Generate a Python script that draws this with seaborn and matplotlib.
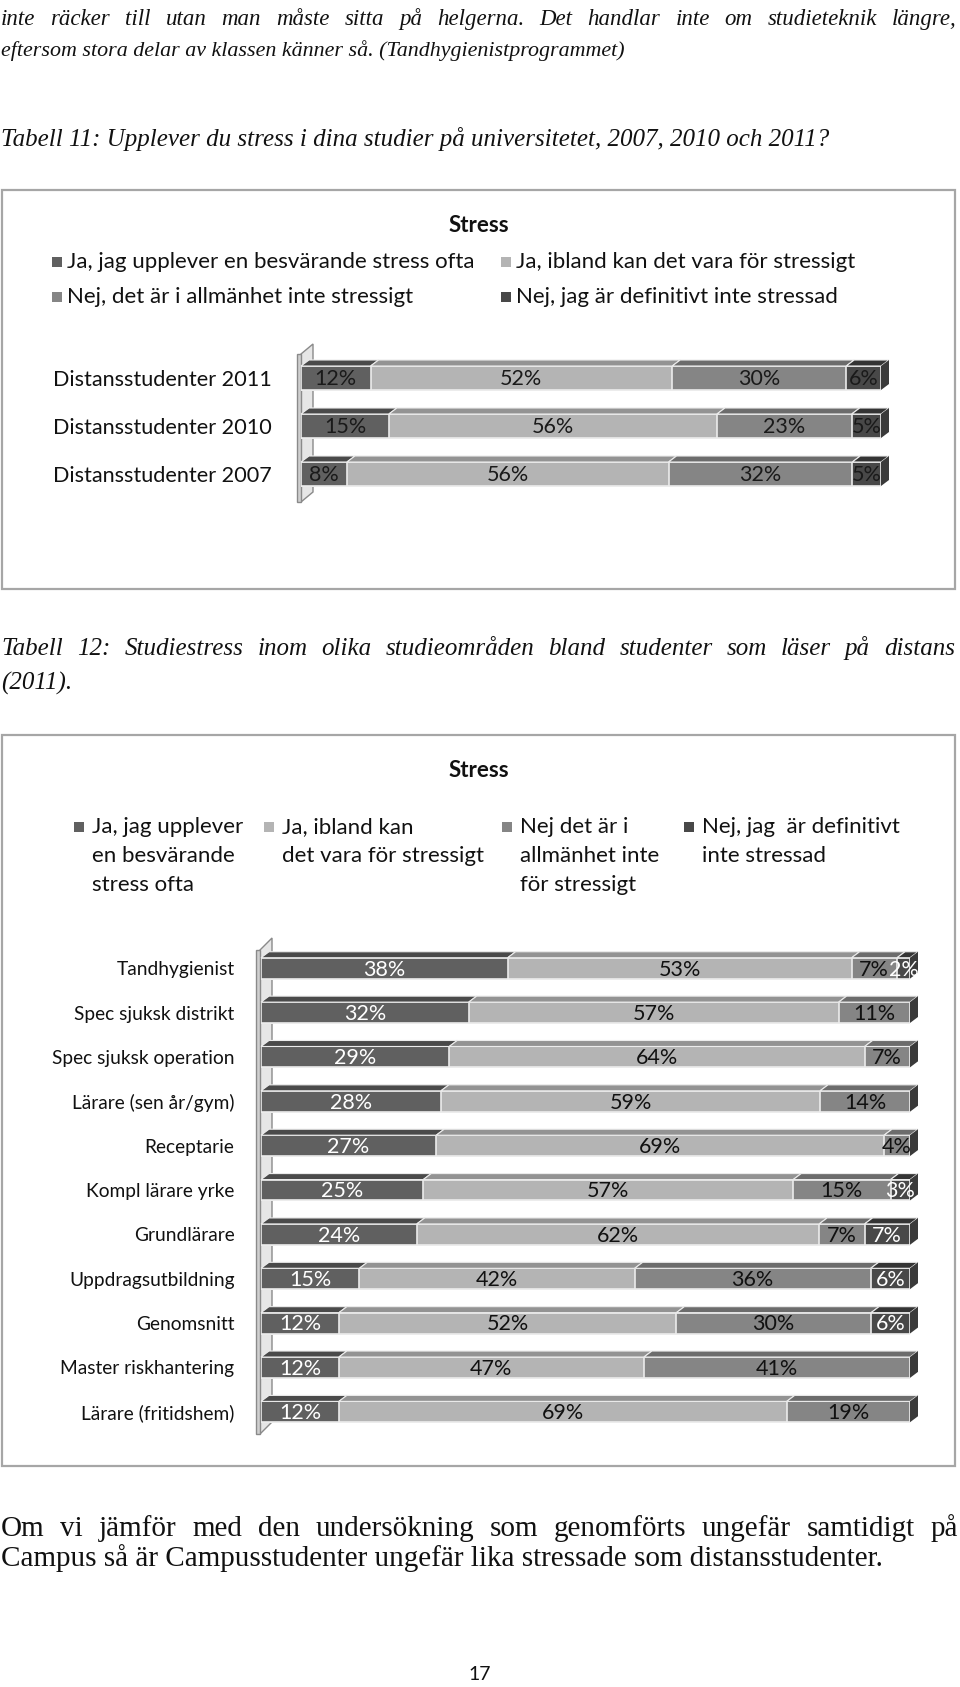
import numpy as np
import matplotlib
matplotlib.use("Agg")
import matplotlib.pyplot as plt
from matplotlib.patches import Rectangle, Polygon
import seaborn as sns

# page size in pixels (figure drawn at 100 dpi)
W, H = 960, 1687

# chart 1: distance students over the years
legend_1 = ["Ja, jag upplever en besvärande stress ofta",
            "Ja, ibland kan det vara för stressigt",
            "Nej, det är i allmänhet inte stressigt",
            "Nej, jag är definitivt inte stressad"]
years = ["Distansstudenter 2011", "Distansstudenter 2010", "Distansstudenter 2007"]
besvarande_1 = [12, 15, 8]
ibland_1 = [52, 56, 56]
allmanhet_1 = [30, 23, 32]
definitivt_1 = [6, 5, 5]

# chart 2: study areas 2011
legend_2 = ["Ja, jag upplever\nen besvärande\nstress ofta",
            "Ja, ibland kan\ndet vara för stressigt",
            "Nej det är i\nallmänhet inte\nför stressigt",
            "Nej, jag  är definitivt\ninte stressad"]
programs = ["Tandhygienist", "Spec sjuksk distrikt", "Spec sjuksk operation",
            "Lärare (sen år/gym)", "Receptarie", "Kompl lärare yrke", "Grundlärare",
            "Uppdragsutbildning", "Genomsnitt", "Master riskhantering",
            "Lärare (fritidshem)"]
besvarande_2 = [38, 32, 29, 28, 27, 25, 24, 15, 12, 12, 12]
ibland_2 = [53, 57, 64, 59, 69, 57, 62, 42, 52, 47, 69]
allmanhet_2 = [7, 11, 7, 14, 4, 15, 7, 36, 30, 41, 19]
definitivt_2 = [2, 0, 0, 0, 0, 3, 7, 6, 6, 0, 0]

COLORS = ["#606060", "#b4b4b4", "#858585", "#484848"]
TOPS = ["#4a4a4a", "#939393", "#6c6c6c", "#343434"]
SIDE = "#3a3a3a"
EDGE = "#ececec"
INK = "#111111"

SANS = ["Lato", "DejaVu Sans"]
SERIF = ["Liberation Serif", "DejaVu Serif"]

sns.set_theme(style="white")
plt.rcParams["font.family"] = SANS

fig = plt.figure(figsize=(W / 100, H / 100), dpi=100)
renderer = fig.canvas.get_renderer()


def fx(x):
    return x / W


def fy(y):
    return 1 - y / H


def add_axes_px(left, top, right, bottom):
    return fig.add_axes([fx(left), fy(bottom), (right - left) / W, (bottom - top) / H])


def justified(y, text, x0, x1, fontsize, **kw):
    """spread the words of one line evenly between x0 and x1 (pixels)
    words share one baseline, y is roughly the visual middle of the line
    """
    base = y + 0.33 * fontsize * 100 / 72
    words = text.split()
    arts = [fig.text(0, fy(base), w, va="baseline", color=INK, fontsize=fontsize, **kw)
            for w in words]
    widths = [a.get_window_extent(renderer).width for a in arts]
    gap = ((x1 - x0) - sum(widths)) / (len(words) - 1)
    x = x0
    for a, w in zip(arts, widths):
        a.set_x(fx(x))
        x += w + gap


def draw_stacked(ax, cats, parts, label_colors, bar_w, depth_px, rise_px, box, fs):
    """100% stacked horizontal bars with a fake 3d top and right face"""
    left, top, right, bottom = box
    vals = np.array(parts, dtype=float).T
    shares = vals / vals.sum(axis=1, keepdims=True)
    cum = shares.cumsum(axis=1)
    starts = cum - shares

    # back to front so the shorter cumulative bars sit on top
    for k in range(len(parts) - 1, -1, -1):
        sns.barplot(x=cum[:, k], y=cats, orient="h", color=COLORS[k], saturation=1,
                    width=bar_w, edgecolor=EDGE, linewidth=1.2, ax=ax, zorder=2)

    ax.set_xlim(0, 1)
    ax.set_ylim(len(cats) - 0.5, -0.5)
    dx = depth_px / (right - left)
    dy = rise_px / ((bottom - top) / len(cats))

    for i in range(len(cats)):
        yt, yb = i - bar_w / 2, i + bar_w / 2
        for k in range(len(parts)):
            if vals[i, k] == 0:
                continue
            l, r = starts[i, k], cum[i, k]
            ax.add_patch(Polygon([(l, yt), (r, yt), (r + dx, yt - dy), (l + dx, yt - dy)],
                                 closed=True, facecolor=TOPS[k], edgecolor=EDGE,
                                 linewidth=0.8, clip_on=False, zorder=3))
            ax.text((l + r) / 2, i + 0.03, f"{int(vals[i, k])}%", ha="center", va="center",
                    color=label_colors[k], fontsize=fs, zorder=5, clip_on=False)
        ax.add_patch(Polygon([(1, yt), (1 + dx, yt - dy), (1 + dx, yb - dy), (1, yb)],
                             closed=True, facecolor=SIDE, edgecolor="none",
                             clip_on=False, zorder=3))

    ax.set_xlabel("")
    ax.set_ylabel("")
    ax.set_xticks([])
    sns.despine(ax=ax, left=True, bottom=True)
    ax.patch.set_alpha(0)


def draw_wall(ax, box, x0, x1, y_top, y_bot, depth):
    left, top, right, bottom = box

    def to_ax(pts):
        return [((x - left) / (right - left), (bottom - y) / (bottom - top)) for x, y in pts]

    front = [(x0, y_top + depth), (x0 + 4, y_top + depth), (x0 + 4, y_bot), (x0, y_bot)]
    side = [(x0 + 4, y_top + depth), (x1, y_top), (x1, y_bot - depth), (x0 + 4, y_bot)]
    for pts, fc in ((side, "#e6e6e6"), (front, "#cfcfcf")):
        ax.add_patch(Polygon(to_ax(pts), closed=True, transform=ax.transAxes,
                             facecolor=fc, edgecolor="#8a8a8a", linewidth=1,
                             clip_on=False, zorder=1))


def chart_frame(top, bottom):
    fig.add_artist(Rectangle((fx(2), fy(bottom)), (955 - 2) / W, (bottom - top) / H,
                             transform=fig.transFigure, fill=False,
                             edgecolor="#a6a6a6", linewidth=1.6))


def legend_square(x, y, color):
    fig.add_artist(Rectangle((fx(x), fy(y + 5)), 10 / W, 10 / H,
                             transform=fig.transFigure, facecolor=color,
                             edgecolor="none"))


# body text above the charts
justified(17, "inte räcker till utan man måste sitta på helgerna. Det handlar inte om studieteknik längre,",
          1, 957, 16.5, family=SERIF, style="italic")
fig.text(fx(1), fy(51), "eftersom stora delar av klassen känner så. (Tandhygienistprogrammet)",
         family=SERIF, style="italic", fontsize=15.8, va="center", color=INK)
fig.text(fx(1), fy(139), "Tabell 11: Upplever du stress i dina studier på universitetet, 2007, 2010 och 2011?",
         family=SERIF, style="italic", fontsize=18, va="center", color=INK)

# chart 1
chart_frame(190, 589)
fig.text(fx(479), fy(226), "Stress", ha="center", va="center", fontsize=16,
         fontweight="bold", color=INK)
leg_pos_1 = [(52, 262), (501, 262), (52, 297), (501, 297)]
for (x, y), name, col in zip(leg_pos_1, legend_1, COLORS):
    legend_square(x, y, col)
    fig.text(fx(x + 15), fy(y), name, va="center", fontsize=16, color=INK)

box1 = (301, 354, 881, 498)
ax1 = add_axes_px(*box1)
draw_wall(ax1, box1, 297, 313, 344, 502, 10)
draw_stacked(ax1, years, [besvarande_1, ibland_1, allmanhet_1, definitivt_1],
             ["#1a1a1a"] * 4, 0.5, 8, 6, box1, 15.5)
ax1.tick_params(axis="y", length=0, pad=21, labelsize=15.6, labelcolor=INK)

# caption between the charts
justified(647, "Tabell 12: Studiestress inom olika studieområden bland studenter som läser på distans",
          1, 955, 18, family=SERIF, style="italic")
fig.text(fx(1), fy(683), "(2011).", family=SERIF, style="italic", fontsize=18,
         va="center", color=INK)

# chart 2
chart_frame(735, 1466)
fig.text(fx(479), fy(771), "Stress", ha="center", va="center", fontsize=16,
         fontweight="bold", color=INK)
leg_x_2 = [74, 264, 502, 684]
for x, name, col in zip(leg_x_2, legend_2, COLORS):
    legend_square(x, 827, col)
    for j, line in enumerate(name.split("\n")):
        fig.text(fx(x + 18), fy(827 + 29 * j), line, va="center", fontsize=16,
                 color=INK)

box2 = (261, 946, 910, 1434)
ax2 = add_axes_px(*box2)
draw_wall(ax2, box2, 256, 272, 938, 1434, 12)
draw_stacked(ax2, programs, [besvarande_2, ibland_2, allmanhet_2, definitivt_2],
             ["white", INK, INK, "white"], 0.47, 8, 6, box2, 15.5)
ax2.tick_params(axis="y", length=0, pad=19, labelsize=13.8, labelcolor=INK)

# text below
justified(1526, "Om vi jämför med den undersökning som genomförts ungefär samtidigt på",
          1, 958, 21, family=SERIF)
fig.text(fx(1), fy(1558), "Campus så är Campusstudenter ungefär lika stressade som distansstudenter.",
         family=SERIF, fontsize=21, va="center", color=INK)
fig.text(fx(480), fy(1675), "17", ha="center", va="center", fontsize=14, color=INK)

fig.savefig("out.png", dpi=100, facecolor="white")
plt.close(fig)
